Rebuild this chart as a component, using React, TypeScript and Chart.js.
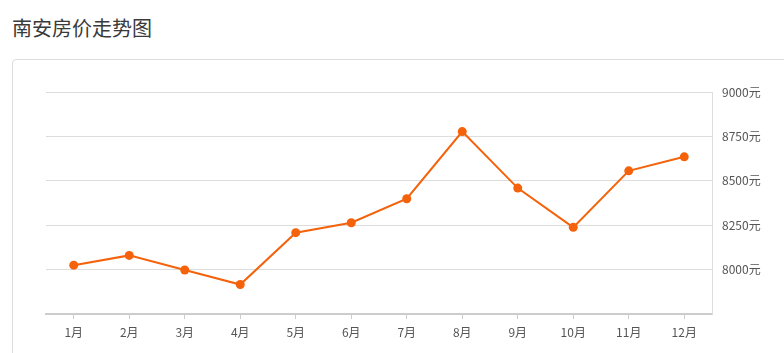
import React, { useEffect, useRef } from "react";
import { Chart, registerables } from "chart.js";

Chart.register(...registerables);

const title = "南安房价走势图";
const months = ["1月", "2月", "3月", "4月", "5月", "6月", "7月", "8月", "9月", "10月", "11月", "12月"];
const prices = [8025, 8080, 7998, 7916, 8208, 8264, 8399, 8777, 8459, 8238, 8556, 8635];
const yMin = 7750;
const yMax = 9000;
const yStep = 250;
const unit = "元";

const ORANGE = "#f4620b";
const FONT = "'Noto Sans CJK SC', 'Noto Sans', sans-serif";

export default function App() {
  const ref = useRef<HTMLCanvasElement>(null);
  useEffect(() => {
    if (!ref.current) return;
    const chart = new Chart(ref.current, {
      type: "line",
      data: {
        labels: months,
        datasets: [
          {
            data: prices,
            borderColor: ORANGE,
            backgroundColor: ORANGE,
            borderWidth: 2,
            pointRadius: 4.5,
            pointBorderWidth: 0,
            pointBackgroundColor: ORANGE,
            tension: 0,
          },
        ],
      },
      options: {
        animation: false,
        responsive: false,
        maintainAspectRatio: false,
        layout: { padding: { left: 46, top: 92, right: 0, bottom: 0 } },
        plugins: { legend: { display: false }, tooltip: { enabled: false } },
        scales: {
          x: {
            offset: true,
            afterFit: (s: any) => {
              s.height = 39;
            },
            grid: {
              offset: false,
              drawOnChartArea: false,
              drawTicks: true,
              tickLength: 5,
              color: "#cccccc",
            },
            border: { display: true, color: "#cccccc", width: 2 },
            ticks: {
              color: "#555555",
              padding: 6,
              font: { family: FONT, size: 12 },
              maxRotation: 0,
              autoSkip: false,
            },
          },
          y: {
            position: "right",
            min: yMin,
            max: yMax,
            afterFit: (s: any) => {
              s.width = 72;
            },
            grid: { color: "#dddddd", drawTicks: false, lineWidth: 1 },
            border: { display: true, color: "#dddddd", width: 1 },
            ticks: {
              stepSize: yStep,
              padding: 10,
              color: "#555555",
              font: { family: FONT, size: 12 },
              callback: (v: any) => (Number(v) === yMin ? "" : v + unit),
            },
          },
        },
      },
    });
    return () => chart.destroy();
  }, []);

  return (
    <div style={{ position: "absolute", left: 0, top: 0, width: 784, height: 353, overflow: "hidden", background: "#fff" }}>
      <div
        style={{
          position: "absolute",
          left: 12,
          top: 14,
          fontFamily: FONT,
          fontSize: 20,
          lineHeight: "28px",
          color: "#3a3a3a",
          whiteSpace: "nowrap",
        }}
      >
        {title}
      </div>
      <div
        style={{
          position: "absolute",
          left: 12,
          top: 59,
          width: 800,
          height: 340,
          border: "1px solid #dddddd",
          borderRadius: 4,
          boxSizing: "border-box",
        }}
      />
      <canvas
        ref={ref}
        width={784}
        height={353}
        style={{ position: "absolute", left: 0, top: 0, width: 784, height: 353 }}
      />
    </div>
  );
}
